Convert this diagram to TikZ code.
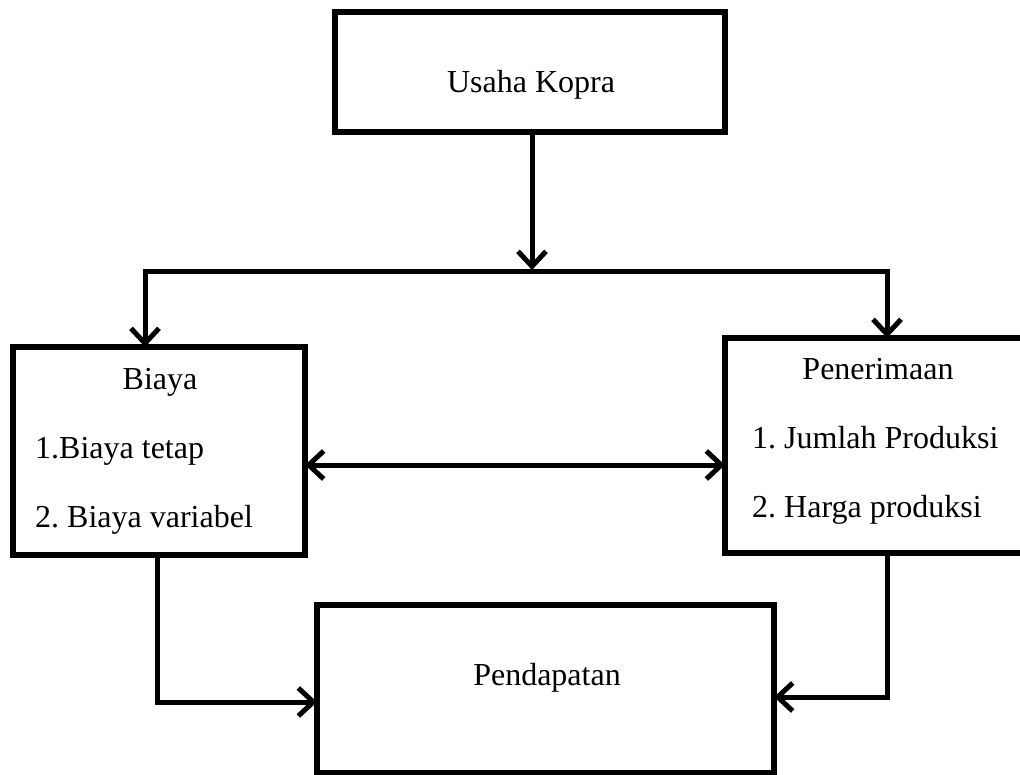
\documentclass[tikz,border=0pt]{standalone}
\usepackage{fontspec}
\setmainfont{Liberation Serif}
\usetikzlibrary{arrows.meta}
\frenchspacing
\begin{document}
\begin{tikzpicture}[x=1pt,y=-1pt,
  box/.style={draw,line width=5.5pt,rectangle,inner sep=0pt,outer sep=0pt},
  lbl/.style={inner sep=0pt,font=\fontsize{32}{38}\selectfont},
  conn/.style={line width=5pt},
  tipA/.tip={Straight Barb[length=15pt,width=28pt,line width=5pt]},
  arr/.style={conn,-tipA},
  arrb/.style={conn,tipA-tipA}]
\useasboundingbox (0,0) rectangle (1020,775);
\clip (0,0) rectangle (1020,775);
% boxes
\node[box,minimum width=390pt,minimum height=120pt] (top) at (530,72) {};
\node[box,minimum width=292pt,minimum height=208pt] (biaya) at (159,451) {};
\node[box,minimum width=305pt,minimum height=215pt] (pener) at (877.5,445.5) {};
\node[box,minimum width=457pt,minimum height=168pt] (pend) at (545.5,689) {};
% texts
\node[lbl,anchor=base] (tTop) at (531,93) {Usaha Kopra};
\node[lbl,anchor=base] (tBiaya) at (160,390) {Biaya};
\node[lbl,anchor=base west] (tB1) at (35,458) {1.Biaya tetap};
\node[lbl,anchor=base west] (tB2) at (35,527) {2. Biaya variabel};
\node[lbl,anchor=base] (tPen) at (878,380) {Penerimaan};
\node[lbl,anchor=base west] (tP1) at (752,448) {1. Jumlah Produksi};
\node[lbl,anchor=base west] (tP2) at (752,517) {2. Harga produksi};
\node[lbl,anchor=base] (tPend) at (547,685) {Pendapatan};
% junction coordinates
\coordinate (jC) at (532,270);
\coordinate (jL) at (145,272);
\coordinate (jR) at (887,272);
\coordinate (mid) at (0,465);
\coordinate (bl) at (157,702);
\coordinate (br) at (887,697);
% connectors
\draw[arr] (jC |- top.south) -- (jC);
\draw[conn] (jL) -- (jR);
\draw[arr] ([yshift=2.5pt]jL) -- (jL |- biaya.north);
\draw[arr] ([yshift=2.5pt]jR) -- (jR |- pener.north);
\draw[arrb] (mid -| biaya.east) -- (mid -| pener.west);
\draw[arr] (bl |- biaya.south) -- (bl) -- (bl -| pend.west);
\draw[arr] (br |- pener.south) -- (br) -- (br -| pend.east);
\end{tikzpicture}
\end{document}
